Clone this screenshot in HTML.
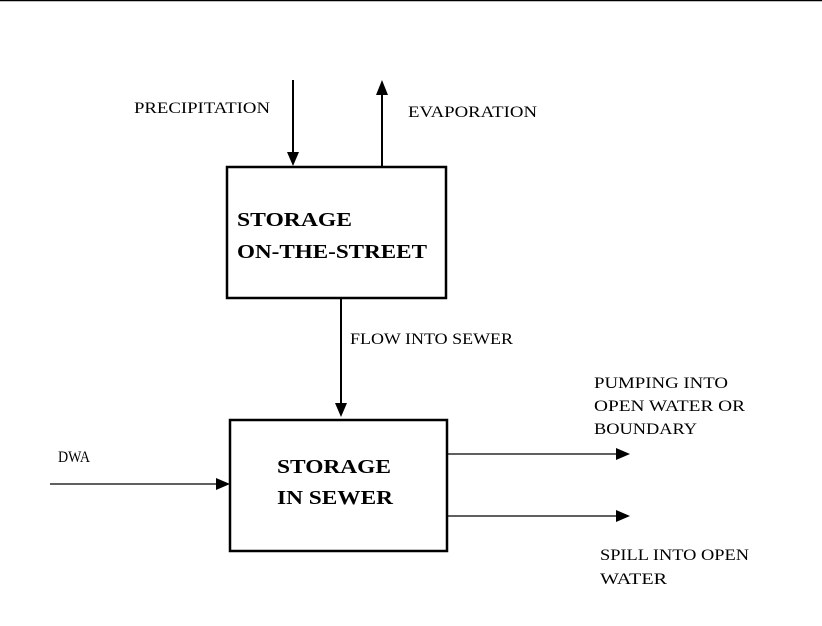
<html><body style="margin:0;width:822px;height:626px;background:#fff;overflow:hidden">
<svg width="822" height="626" xmlns="http://www.w3.org/2000/svg" style="font-family:'Liberation Serif',serif">
<line x1="0" y1="0.5" x2="822" y2="0.5" stroke="#000" stroke-width="1.5"/>
<rect x="227" y="167" width="219" height="131" fill="#fff" stroke="#000" stroke-width="2.5"/>
<rect x="230" y="420" width="217" height="131" fill="#fff" stroke="#000" stroke-width="2.5"/>
<g stroke="#000" stroke-width="2">
<line x1="293" y1="80" x2="293" y2="155"/>
<line x1="382" y1="92" x2="382" y2="167"/>
<line x1="341" y1="298" x2="341" y2="405"/>
</g>
<g stroke="#000" stroke-width="1.3">
<line x1="50" y1="484" x2="218" y2="484"/>
<line x1="447" y1="454" x2="618" y2="454"/>
<line x1="447" y1="516" x2="618" y2="516"/>
</g>
<g fill="#000">
<polygon points="287,152 299,152 293,166"/>
<polygon points="376,95 388,95 382,80"/>
<polygon points="335,403 347,403 341,417"/>
<polygon points="216,478 216,490 230,484"/>
<polygon points="616,448 616,460 630,454"/>
<polygon points="616,510 616,522 630,516"/>
</g>
<g font-size="16" lengthAdjust="spacingAndGlyphs">
<text x="134" y="113" textLength="136" lengthAdjust="spacingAndGlyphs">PRECIPITATION</text>
<text x="408" y="117" textLength="129" lengthAdjust="spacingAndGlyphs">EVAPORATION</text>
<text x="350" y="344" textLength="163" lengthAdjust="spacingAndGlyphs">FLOW INTO SEWER</text>
<text x="594" y="388" textLength="134" lengthAdjust="spacingAndGlyphs">PUMPING INTO</text>
<text x="594" y="411" textLength="151" lengthAdjust="spacingAndGlyphs">OPEN WATER OR</text>
<text x="594" y="434" textLength="103" lengthAdjust="spacingAndGlyphs">BOUNDARY</text>
<text x="58" y="462" textLength="32" lengthAdjust="spacingAndGlyphs">DWA</text>
<text x="600" y="560" textLength="149" lengthAdjust="spacingAndGlyphs">SPILL INTO OPEN</text>
<text x="600" y="584" textLength="67" lengthAdjust="spacingAndGlyphs">WATER</text>
</g>
<g font-size="20" font-weight="bold">
<text x="237" y="226" textLength="115" lengthAdjust="spacingAndGlyphs">STORAGE</text>
<text x="237" y="258" textLength="190" lengthAdjust="spacingAndGlyphs">ON-THE-STREET</text>
<text x="277" y="473" textLength="114" lengthAdjust="spacingAndGlyphs">STORAGE</text>
<text x="277" y="504" textLength="116" lengthAdjust="spacingAndGlyphs">IN SEWER</text>
</g>
</svg>
</body></html>
